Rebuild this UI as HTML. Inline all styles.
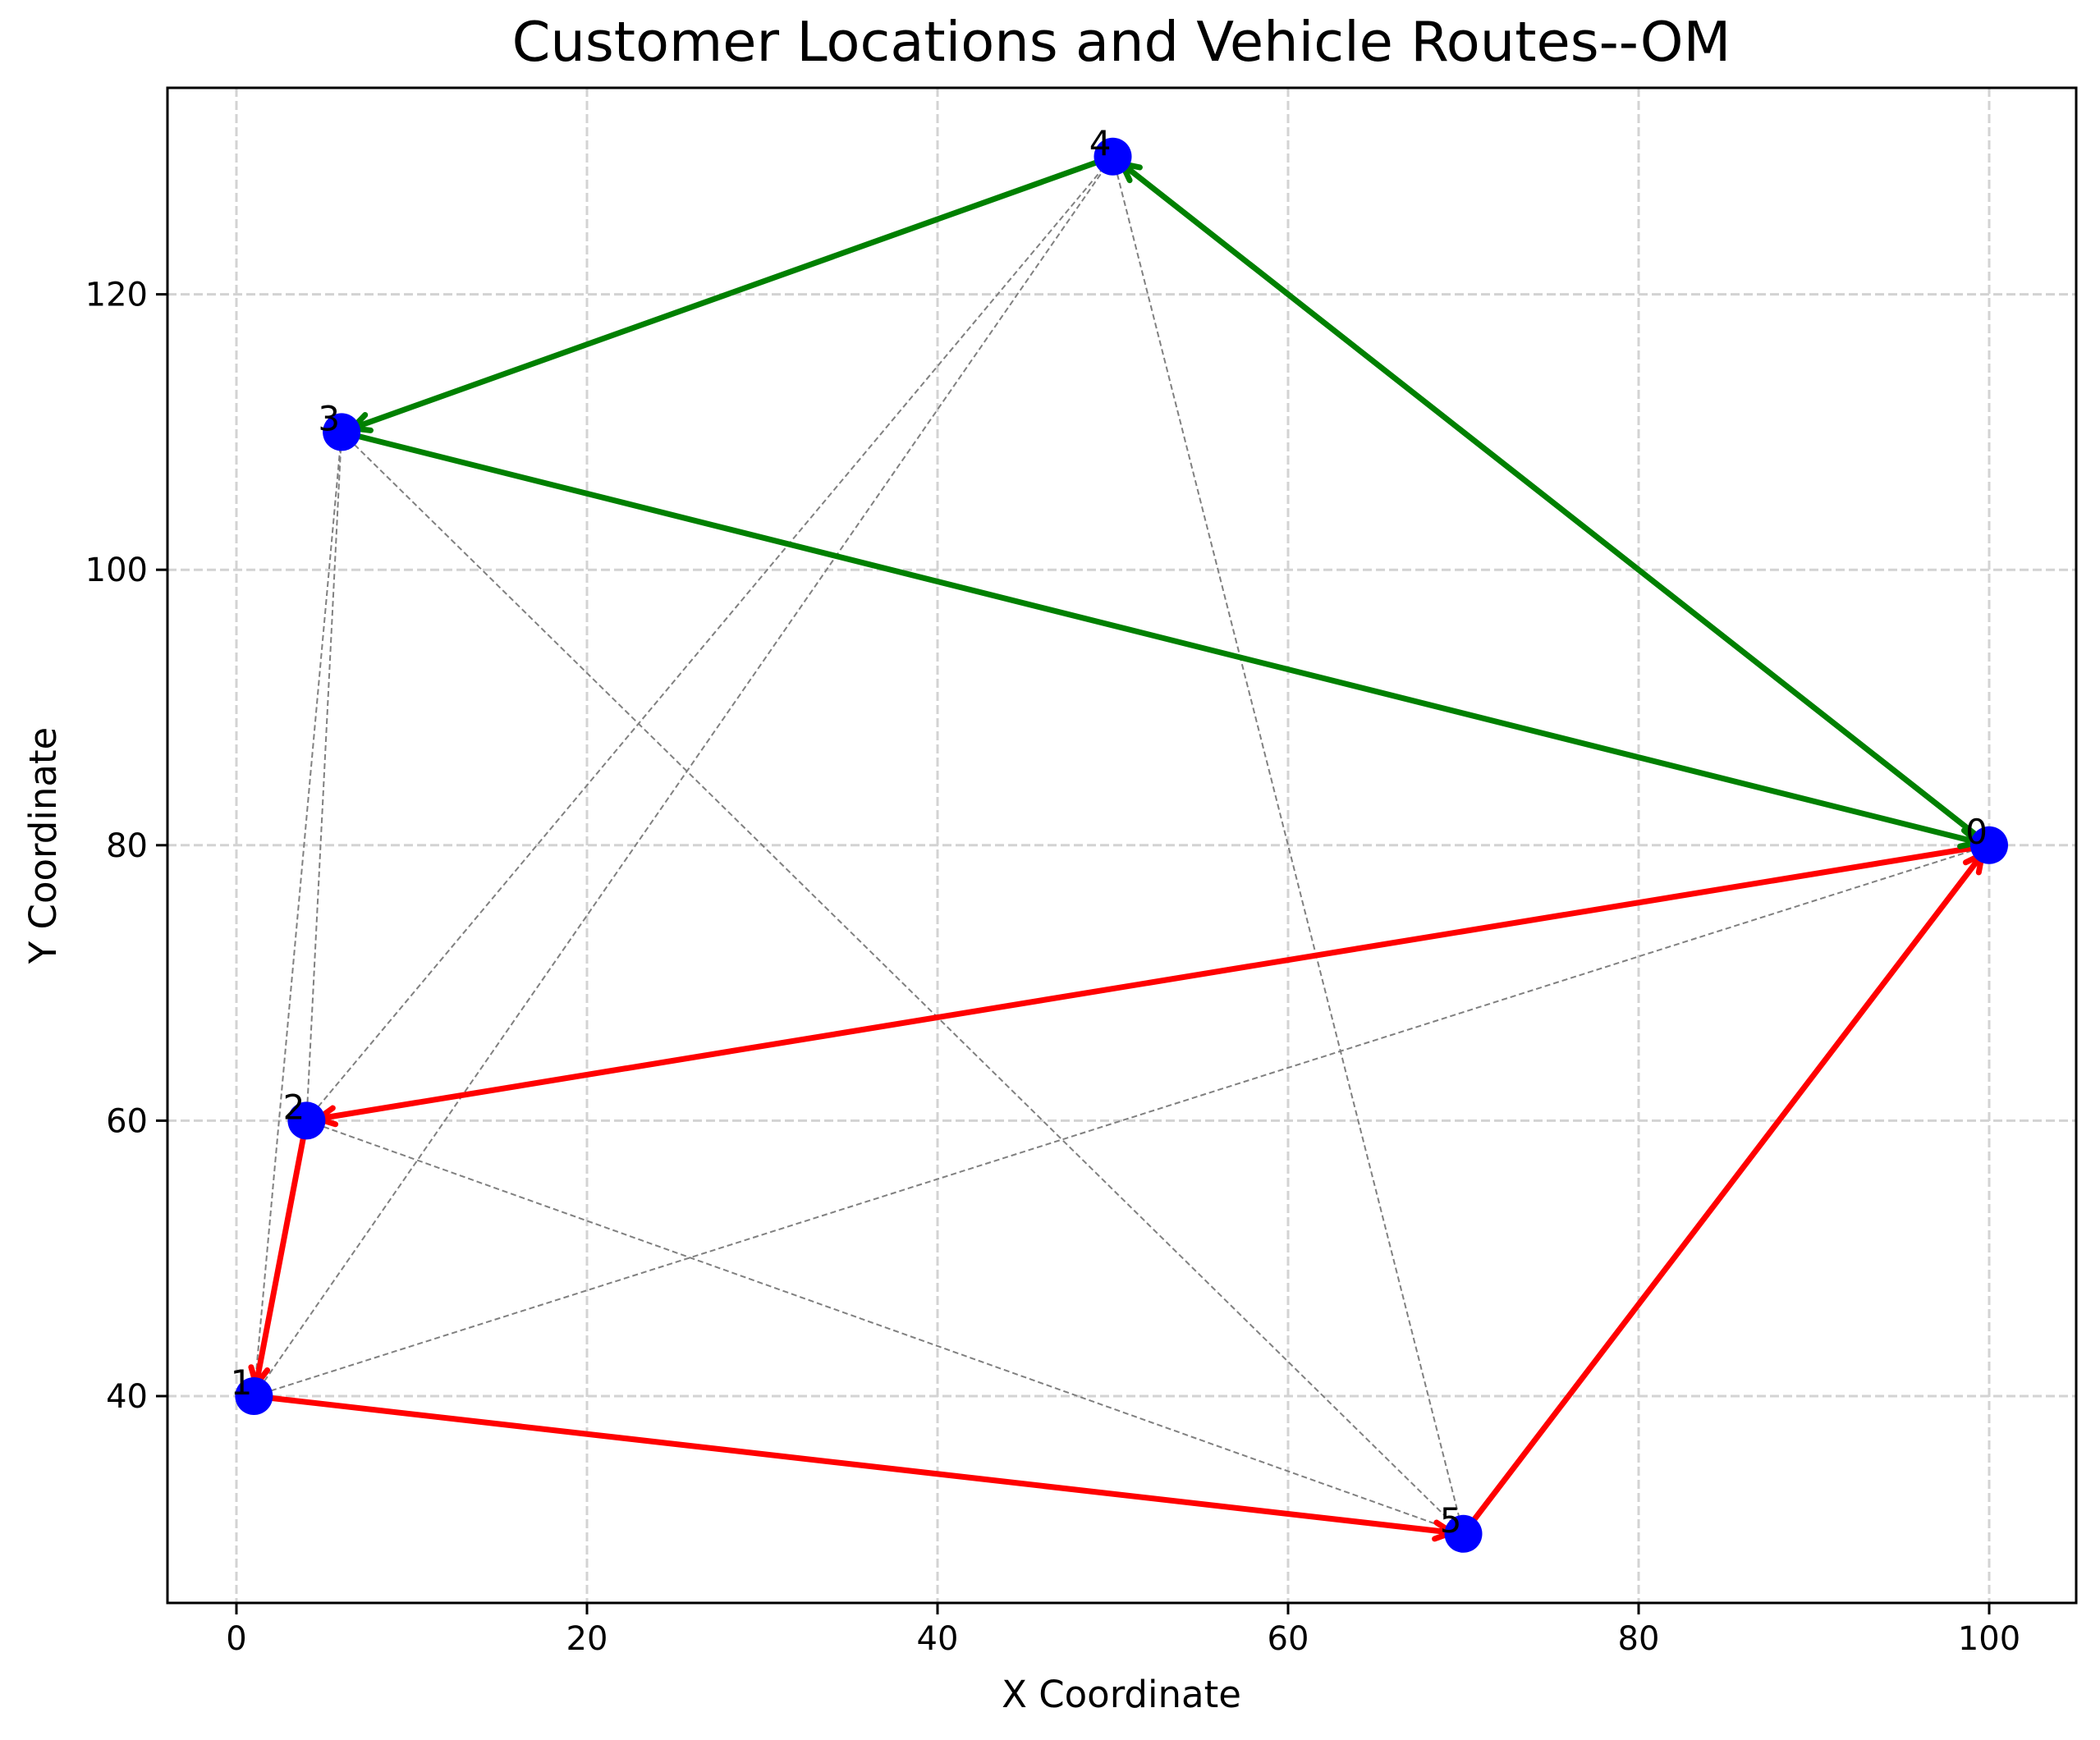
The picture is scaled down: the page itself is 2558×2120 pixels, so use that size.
<!DOCTYPE html>
<html><head><meta charset="utf-8"><style>
body{margin:0;background:#fff}
svg{display:block;font-family:"DejaVu Sans","Liberation Sans",sans-serif}
</style></head><body>
<svg id="chart" width="2558" height="2120" viewBox="0 0 2558 2120">
<rect width="2558" height="2120" fill="#fff"/>
<g id="grid"></g>
<g id="dashed"></g>
<g id="routes"></g>
<g id="points"></g>
<rect x="204" y="107" width="2325" height="1846" fill="none" stroke="#000" stroke-width="3"/>
<g id="ticks"></g>
<text x="1366" y="74" font-size="67" text-anchor="middle">Customer Locations and Vehicle Routes--OM</text>
<text x="1366" y="2080" font-size="45" text-anchor="middle">X Coordinate</text>
<text x="0" y="0" font-size="45" text-anchor="middle" transform="translate(68 1030) rotate(-90)">Y Coordinate</text>
</svg>
<script>
const nodeIds=["0","1","2","3","4","5"];
const nodeX=[100,1,4,6,50,70];
const nodeY=[80,40,60,110,130,30];
const redRoute=[0,2,1,5,0];
const greenRoute=[0,4,3,0];
const otherEdges=[[0,1],[1,3],[1,4],[2,3],[2,4],[2,5],[3,5],[4,5]];
const xTicks=[0,20,40,60,80,100];
const yTicks=[40,60,80,100,120];
const NS="http://www.w3.org/2000/svg";
function sx(v){return 288+v*21.35;}
function sy(v){return 1701-(v-40)*16.78;}
function mk(tag,attrs,parent){const e=document.createElementNS(NS,tag);for(const k in attrs)e.setAttribute(k,attrs[k]);document.getElementById(parent).appendChild(e);return e;}
xTicks.forEach(t=>{
 const g=mk('line',{x1:sx(t),x2:sx(t),y1:107,y2:1953,stroke:'#d3d3d3','stroke-width':3,'stroke-dasharray':'11 5'},'grid');
 
 
 const k=mk('line',{x1:sx(t),x2:sx(t),y1:1953,y2:1967,stroke:'#000','stroke-width':3},'ticks');
 
 
 const l=mk('text',{x:sx(t),y:2010,'font-size':40,'text-anchor':'middle'},'ticks');
 l.textContent=t;
 
 
});
yTicks.forEach(t=>{
 const g=mk('line',{x1:204,x2:2529,y1:sy(t),y2:sy(t),stroke:'#d3d3d3','stroke-width':3,'stroke-dasharray':'11 5'},'grid');
 
 
 const k=mk('line',{x1:190,x2:204,y1:sy(t),y2:sy(t),stroke:'#000','stroke-width':3},'ticks');
 
 
 const l=mk('text',{x:180,y:sy(t)+14,'font-size':40,'text-anchor':'end'},'ticks');
 l.textContent=t;
 
 
});
otherEdges.forEach(e=>{
 const l=mk('line',{x1:sx(nodeX[e[0]]),y1:sy(nodeY[e[0]]),x2:sx(nodeX[e[1]]),y2:sy(nodeY[e[1]]),stroke:'#808080','stroke-width':2,'stroke-dasharray':'7 4'},'dashed');
 
 
});
nodeIds.forEach((id,i)=>{
 const c=mk('circle',{cx:sx(nodeX[i]),cy:sy(nodeY[i]),r:23,fill:'#0000ff'},'points');
 
 
});
function drawRoute(route,color,name){
 for(let i=0;i<route.length-1;i++){
  const a=route[i],b=route[i+1];
  const x1=sx(nodeX[a]),y1=sy(nodeY[a]),x2=sx(nodeX[b]),y2=sy(nodeY[b]);
  const dx=x2-x1,dy=y2-y1,L=Math.hypot(dx,dy),ux=dx/L,uy=dy/L;
  const tx=x2-ux*14,ty=y2-uy*14;
  const l=mk('line',{x1:x1+ux*3,y1:y1+uy*3,x2:tx,y2:ty,stroke:color,'stroke-width':7,'stroke-linecap':'round'},'routes');
  
  
  const h=20,w=10;
  const bx=tx-ux*h,by=ty-uy*h;
  const p=mk('polyline',{points:`${bx-uy*w},${by+ux*w} ${tx},${ty} ${bx+uy*w},${by-ux*w}`,fill:'none',stroke:color,'stroke-width':7,'stroke-linecap':'round','stroke-linejoin':'miter'},'routes');
  
  
 }
}
drawRoute(redRoute,'#ff0000','red-route');
drawRoute(greenRoute,'#008000','green-route');
nodeIds.forEach((id,i)=>{
 const t=mk('text',{x:sx(nodeX[i])-2,y:sy(nodeY[i])-2,'font-size':42,'text-anchor':'end'},'points');
 t.textContent=id;
 
 
});
</script>
</body></html>
